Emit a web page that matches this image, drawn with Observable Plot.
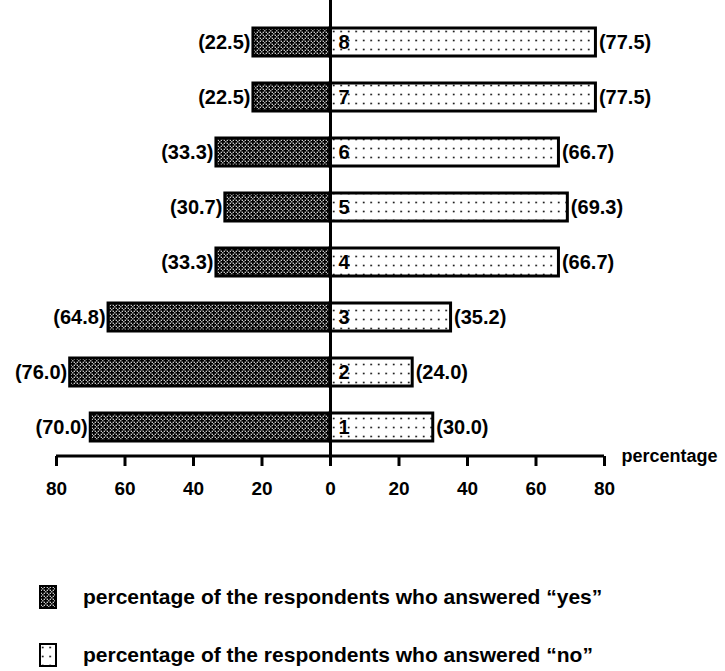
<!DOCTYPE html>
<html>
<head>
<meta charset="utf-8">
<script src="https://cdn.jsdelivr.net/npm/d3@7"></script>
<script src="https://cdn.jsdelivr.net/npm/@observablehq/plot@0.6"></script>
<style>
  body { margin: 0; background: #fff; width: 725px; height: 671px; overflow: hidden; }
  #legend { margin-top: 62px; font-family: "Liberation Sans", Arial, sans-serif; font-weight: bold; font-size: 21px; color: #000; }
  .row { display: flex; align-items: center; height: 30px; padding-left: 39px; }
  .row + .row { margin-top: 28px; }
  .row svg { margin-right: 26px; }
</style>
</head>
<body>
<svg width="0" height="0" style="position:absolute">
  <defs>
    <pattern id="yesPat" patternUnits="userSpaceOnUse" width="6" height="6">
      <rect width="6" height="6" fill="#000"/>
      <rect x="0.2" y="0.2" width="1.2" height="1.2" fill="#fff"/>
      <rect x="1.7" y="1.7" width="1.2" height="1.2" fill="#fff"/>
      <rect x="3.2" y="3.2" width="1.2" height="1.2" fill="#fff"/>
      <rect x="4.7" y="4.7" width="1.2" height="1.2" fill="#fff"/>
      <rect x="1.7" y="4.7" width="1.2" height="1.2" fill="#fff"/>
      <rect x="4.7" y="1.7" width="1.2" height="1.2" fill="#fff"/>
    </pattern>
    <pattern id="noPat" patternUnits="userSpaceOnUse" width="7.5" height="9">
      <rect width="7.5" height="9" fill="#fff"/>
      <circle cx="3.7" cy="4.5" r="0.95" fill="#111"/>
    </pattern>
  </defs>
</svg>
<div id="chart"></div>
<div id="legend">
  <div class="row"><svg width="18" height="24"><rect x="1" y="1" width="16" height="22" fill="url(#yesPat)" stroke="#000" stroke-width="2"/></svg><span>percentage of the respondents who answered “yes”</span></div>
  <div class="row"><svg width="18" height="24"><rect x="1" y="1" width="16" height="22" fill="url(#noPat)" stroke="#000" stroke-width="2"/></svg><span>percentage of the respondents who answered “no”</span></div>
</div>
<script>
const questions = [1, 2, 3, 4, 5, 6, 7, 8];
const yesValues = [70.0, 76.0, 64.8, 33.3, 30.7, 33.3, 22.5, 22.5];
const noValues  = [30.0, 24.0, 35.2, 66.7, 69.3, 66.7, 77.5, 77.5];
const xTicks = [-80, -60, -40, -20, 0, 20, 40, 60, 80];

const data = questions.map((q, i) => ({q, yes: yesValues[i], no: noValues[i]}));
const numFont = '"Liberation Sans", Arial, sans-serif';

const plot = Plot.plot({
  width: 725,
  height: 520,
  marginTop: 13,
  marginBottom: 64,
  marginLeft: 56,
  marginRight: 121,
  style: {fontFamily: numFont, fontWeight: "bold", color: "#000", background: "#fff"},
  x: {domain: [-80, 80], axis: null},
  y: {domain: questions.slice().reverse(), paddingInner: 0.5, paddingOuter: 0.25, axis: null},
  marks: [
    Plot.barX(data, {x1: 0, x2: d => -d.yes, y: "q", fill: "url(#yesPat)", stroke: "#000", strokeWidth: 3}),
    Plot.barX(data, {x1: 0, x2: "no", y: "q", fill: "url(#noPat)", stroke: "#000", strokeWidth: 3}),
    Plot.ruleX([0], {stroke: "#000", strokeWidth: 3, insetTop: -13}),
    Plot.axisX({ticks: xTicks, tickFormat: d => Math.abs(d), tickSize: 10, tickPadding: 15, strokeWidth: 3, fontSize: 19, fontWeight: "bold", label: null}),
    Plot.text(data, {x: d => -d.yes, y: "q", text: d => `(${d.yes.toFixed(1)})`, textAnchor: "end", dx: -3, fontSize: 20, fontWeight: "bold"}),
    Plot.text(data, {x: "no", y: "q", text: d => `(${d.no.toFixed(1)})`, textAnchor: "start", dx: 3, fontSize: 20, fontWeight: "bold"}),
    Plot.text(data, {x: 0, y: "q", text: d => String(d.q), textAnchor: "start", dx: 8, fontSize: 20, fontWeight: "bold"}),
    Plot.text(["percentage"], {frameAnchor: "bottom-right", textAnchor: "start", dx: 17, dy: 5, fontSize: 18, fontWeight: "bold"})
  ]
});

// horizontal axis baseline from the x scale
const xs = plot.scale("x");
d3.select(plot).append("line")
  .attr("x1", xs.apply(-80)).attr("x2", xs.apply(80))
  .attr("y1", 520 - 64).attr("y2", 520 - 64)
  .attr("stroke", "#000").attr("stroke-width", 3);

document.getElementById("chart").appendChild(plot);
</script>
</body>
</html>
